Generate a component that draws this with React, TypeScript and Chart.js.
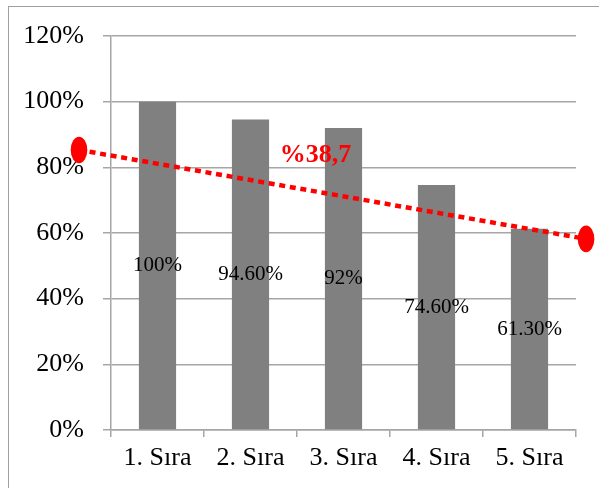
import React, { useEffect, useRef } from 'react';
import { Chart, registerables } from 'chart.js';

Chart.register(...registerables);

const categories = ['1. Sıra', '2. Sıra', '3. Sıra', '4. Sıra', '5. Sıra'];
const values = [100, 94.6, 92, 74.6, 61.3];
const valueLabels = ['100%', '94.60%', '92%', '74.60%', '61.30%'];
const trendX = [-0.844, 4.608];
const trendY = [85.3, 58.2];
const annotationText = '%38,7';
const annotationX = 1.7;
const annotationY = 81.6;

const SERIF = '"Liberation Serif", "Times New Roman", serif';
const GRID = '#a6a6a6';
const MARKER_RX = 8.3;
const MARKER_RY = 13.3;

const labelPlugin = {
  id: 'valueLabels',
  afterDatasetsDraw(chart: any) {
    const ctx = chart.ctx;
    ctx.save();
    // end markers of the trend line (ellipses at the line's points)
    const lineMeta = chart.getDatasetMeta(1);
    ctx.fillStyle = '#ff0000';
    lineMeta.data.forEach((el: any) => {
      const p = el.getProps(['x', 'y'], true);
      ctx.beginPath();
      ctx.ellipse(p.x, p.y, MARKER_RX, MARKER_RY, 0, 0, Math.PI * 2);
      ctx.fill();
    });
    // value labels inside bars
    const meta = chart.getDatasetMeta(0);
    ctx.font = `21px ${SERIF}`;
    ctx.fillStyle = '#000';
    ctx.textAlign = 'center';
    ctx.textBaseline = 'middle';
    meta.data.forEach((el: any, i: number) => {
      const p = el.getProps(['x', 'y', 'base'], true);
      ctx.fillText(valueLabels[i], p.x, (p.y + p.base) / 2);
    });
    // annotation
    const xs = chart.scales.x2;
    const ys = chart.scales.y;
    ctx.font = `bold 26px ${SERIF}`;
    ctx.fillStyle = '#ff0000';
    ctx.textBaseline = 'alphabetic';
    ctx.fillText(annotationText, xs.getPixelForValue(annotationX), ys.getPixelForValue(annotationY));
    ctx.restore();
  },
};

export default function App() {
  const ref = useRef<HTMLCanvasElement>(null);

  useEffect(() => {
    if (!ref.current) return;
    const chart = new Chart(ref.current, {
      type: 'bar',
      data: {
        labels: categories,
        datasets: [
          {
            type: 'bar',
            data: values,
            backgroundColor: '#808080',
            borderWidth: 0,
            barPercentage: 0.4,
            categoryPercentage: 1,
            grouped: false,
            order: 1,
          } as any,
          {
            type: 'line',
            xAxisID: 'x2',
            data: trendX.map((x, i) => ({ x, y: trendY[i] })),
            borderColor: '#ff0000',
            backgroundColor: '#ff0000',
            borderWidth: 4.5,
            borderDash: [6, 4.7],
            borderCapStyle: 'butt',
            pointRadius: 0,
            fill: false,
            tension: 0,
            clip: false,
            order: 0,
          } as any,
        ],
      },
      options: {
        responsive: false,
        animation: false,
        layout: { padding: { left: 0, top: 36, right: 23, bottom: 0 } },
        plugins: { legend: { display: false }, tooltip: { enabled: false } },
        scales: {
          x: {
            type: 'category',
            grid: {
              offset: true,
              drawOnChartArea: false,
              drawTicks: true,
              tickLength: 7,
              color: GRID,
              lineWidth: 1.5,
            },
            border: { color: GRID, width: 1.5 },
            ticks: { font: { family: SERIF, size: 26 }, color: '#000', padding: 6 },
            afterFit: (s: any) => {
              s.height = 58;
            },
          },
          x2: {
            type: 'linear',
            position: 'bottom',
            display: false,
            offset: false,
            grid: { offset: false },
            min: -0.5,
            max: 4.5,
          },
          y: {
            min: 0,
            max: 120,
            ticks: {
              stepSize: 20,
              font: { family: SERIF, size: 26 },
              color: '#000',
              padding: 19,
              callback: (v: any) => `${v}%`,
            },
            grid: { color: GRID, lineWidth: 1.5, tickLength: 8 },
            border: { color: GRID, width: 1.5 },
            afterFit: (s: any) => {
              s.width = 111;
            },
          },
        },
      } as any,
      plugins: [labelPlugin],
    });
    return () => chart.destroy();
  }, []);

  return (
    <div
      style={{
        position: 'fixed',
        left: 0,
        top: 0,
        width: 599,
        height: 488,
        background: '#fff',
        overflow: 'hidden',
      }}
    >
      <div
        style={{
          position: 'absolute',
          left: 8,
          top: 6,
          width: 700,
          height: 600,
          border: '1.5px solid #a0a0a0',
        }}
      />
      <canvas
        ref={ref}
        width={599}
        height={488}
        style={{ position: 'absolute', left: 0, top: 0, width: 599, height: 488 }}
      />
    </div>
  );
}
